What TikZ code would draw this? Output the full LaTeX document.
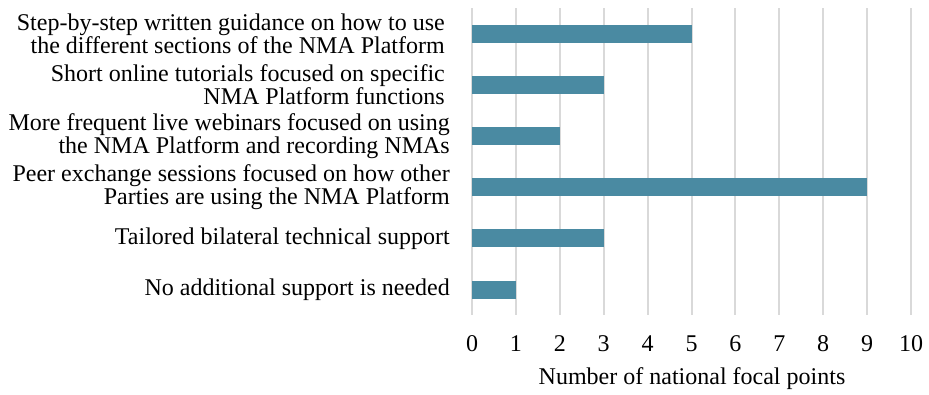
\documentclass[tikz,border=0pt]{standalone}
\usepackage{fontspec}
\setmainfont{Liberation Serif}
\definecolor{barc}{RGB}{74,138,162}
\definecolor{gridc}{RGB}{217,217,217}
\begin{document}
\begin{tikzpicture}[x=1pt,y=-1pt,
  lab/.style={anchor=east,align=right,font=\fontsize{24}{23.5}\selectfont,inner sep=0pt},
  tick/.style={anchor=center,font=\fontsize{24}{23.5}\selectfont,inner sep=0pt},
  bar/.style={fill=barc,draw=none},
  grid/.style={draw=gridc,line width=2pt}]
\useasboundingbox (0,0) rectangle (929,394);
\foreach \i in {0,...,10} {
  \draw[grid] ({472+43.9*\i},8) -- ({472+43.9*\i},315);
  \node[tick] (t\i) at ({472+43.9*\i},344) {\i};
}
\foreach \v [count=\k from 0] in {5,3,2,9,3,1} {
  \fill[bar] (472,{33.6+51.2*\k-9}) rectangle ({472+43.9*\v},{33.6+51.2*\k+9});
}
\node[lab] (l1) at (445,33.6) {Step-by-step written guidance on how to use\\the different sections of the NMA Platform};
\node[lab] (l2) at (445,84.8) {Short online tutorials focused on specific\\NMA Platform functions};
\node[lab] (l3) at (450,136) {More frequent live webinars focused on using\\the NMA Platform and recording NMAs};
\node[lab] (l4) at (450,187.2) {Peer exchange sessions focused on how other\\Parties are using the NMA Platform};
\node[lab] (l5) at (450,238.4) {Tailored bilateral technical support};
\node[lab] (l6) at (450,289.6) {No additional support is needed};
\node[tick] (xt) at (692,379) {Number of national focal points};
\end{tikzpicture}
\end{document}
